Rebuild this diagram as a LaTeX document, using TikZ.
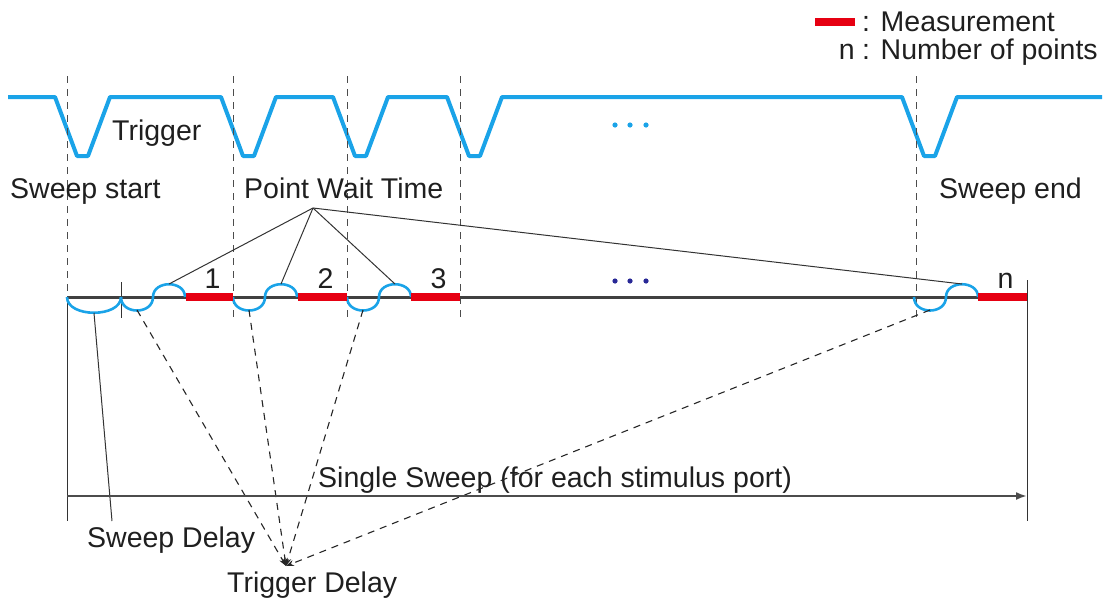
\documentclass[tikz,border=0pt]{standalone}
\usepackage{fontspec}
\setmainfont{Liberation Sans}
\usetikzlibrary{arrows.meta}
\definecolor{trigblue}{RGB}{26,163,232}
\definecolor{measred}{RGB}{230,0,18}
\definecolor{dotnavy}{RGB}{40,40,150}
\tikzset{
  lbl/.style={font=\fontsize{28.5}{34}\selectfont, inner sep=0pt, text=black!88},
  pulse/.style={trigblue, line width=4pt, line join=round},
  wave/.style={trigblue, line width=2.6pt},
  measure/.style={measred, line width=8pt},
  guide/.style={black!70, line width=0.9pt, dash pattern=on 7pt off 6pt},
  thinline/.style={black!80, line width=1pt}
}
\begin{document}
\begin{tikzpicture}[x=1pt, y=-1pt, >={Latex[length=11pt,width=8pt]}]
\useasboundingbox (0,0) rectangle (1105,600);
% Legenda
\draw[measure] (815,22) -- (855,22);
\node[lbl, anchor=base west] (legm) at (862,31) {: Measurement};
\node[lbl, anchor=base east] (legn) at (855,59) {n};
\node[lbl, anchor=base west] (legp) at (862,59) {: Number of points};
% Sinal de trigger
\draw[pulse] (8,97) \foreach \a in {55,221,333,447,902} {
  -- (\a,97) -- ({\a+22},156) -- ({\a+33},156) -- ({\a+55},97) } -- (1102,97);
\foreach \x in {615,630,646} \fill[trigblue] (\x,125) circle (2.6pt);
% Linhas verticais de referencia
\foreach \x in {67,233,347,460,916}
  \draw[guide] (\x,76) -- (\x,320);
\draw[thinline] (67,297) -- (67,521);
\draw[thinline] (121,282) -- (121,318);
\draw[thinline] (1027,280) -- (1027,521);
% Eixo de tempo
\draw[black!75, line width=3pt] (67,297) -- (1027,297);
\foreach \x in {615,630,646} \fill[dotnavy] (\x,281) circle (2.6pt);
% Sweep delay + trigger delays (semi-elipses)
\draw[wave] (67,297) .. controls (67,318) and (121,318) .. (121,297);
\coordinate (sdbot) at (94,313);
\foreach \s/\n in {121/1,233/2,347/3,914/n} {
  \draw[wave] (\s,297) .. controls (\s,{297+18}) and ({\s+32},{297+18}) .. ({\s+32},297)
    .. controls ({\s+32},{297-17}) and ({\s+64},{297-17}) .. ({\s+64},297);
  \coordinate (bot\n) at ({\s+16},310);
  \coordinate (top\n) at ({\s+48},284);
}
% Medidas
\foreach \a/\b/\n in {186/233/1,298/347/2,411/460/3,978/1027/n} {
  \draw[measure] (\a,297) -- (\b,297);
  \node[lbl, anchor=base] (num\n) at ({(\a+\b)/2+3},288) {\n};
}
% Textos
\node[lbl, anchor=base west] (trig) at (112,140) {Trigger};
\node[lbl, anchor=base west] (swst) at (10,198) {Sweep start};
\node[lbl, anchor=base west] (pwt) at (244,198) {Point Wait Time};
\node[lbl, anchor=base west] (swen) at (939,198) {Sweep end};
\node[lbl, anchor=base west] (single) at (318,487) {Single Sweep (for each stimulus port)};
\node[lbl, anchor=base west] (swd) at (87,547) {Sweep Delay};
\node[lbl, anchor=base west] (trd) at (227,592) {Trigger Delay};
% Point wait time
\coordinate (pwtpt) at (313,208);
\foreach \n in {1,2,3,n}
  \draw[thinline] (pwtpt) -- (top\n);
% Sweep delay
\coordinate (swdpt) at (112,521);
\draw[thinline] (sdbot) -- (swdpt);
% Trigger delay
\coordinate (trdpt) at (286,566);
\foreach \n in {1,2,3,n}
  \draw[guide, line width=1.1pt, black!85, ->, >={Stealth[length=8pt,width=6pt]}] (bot\n) -- (trdpt);
% Single sweep
\draw[black!70, line width=2pt, ->] (67,496) -- (1027,496);
\end{tikzpicture}
\end{document}
